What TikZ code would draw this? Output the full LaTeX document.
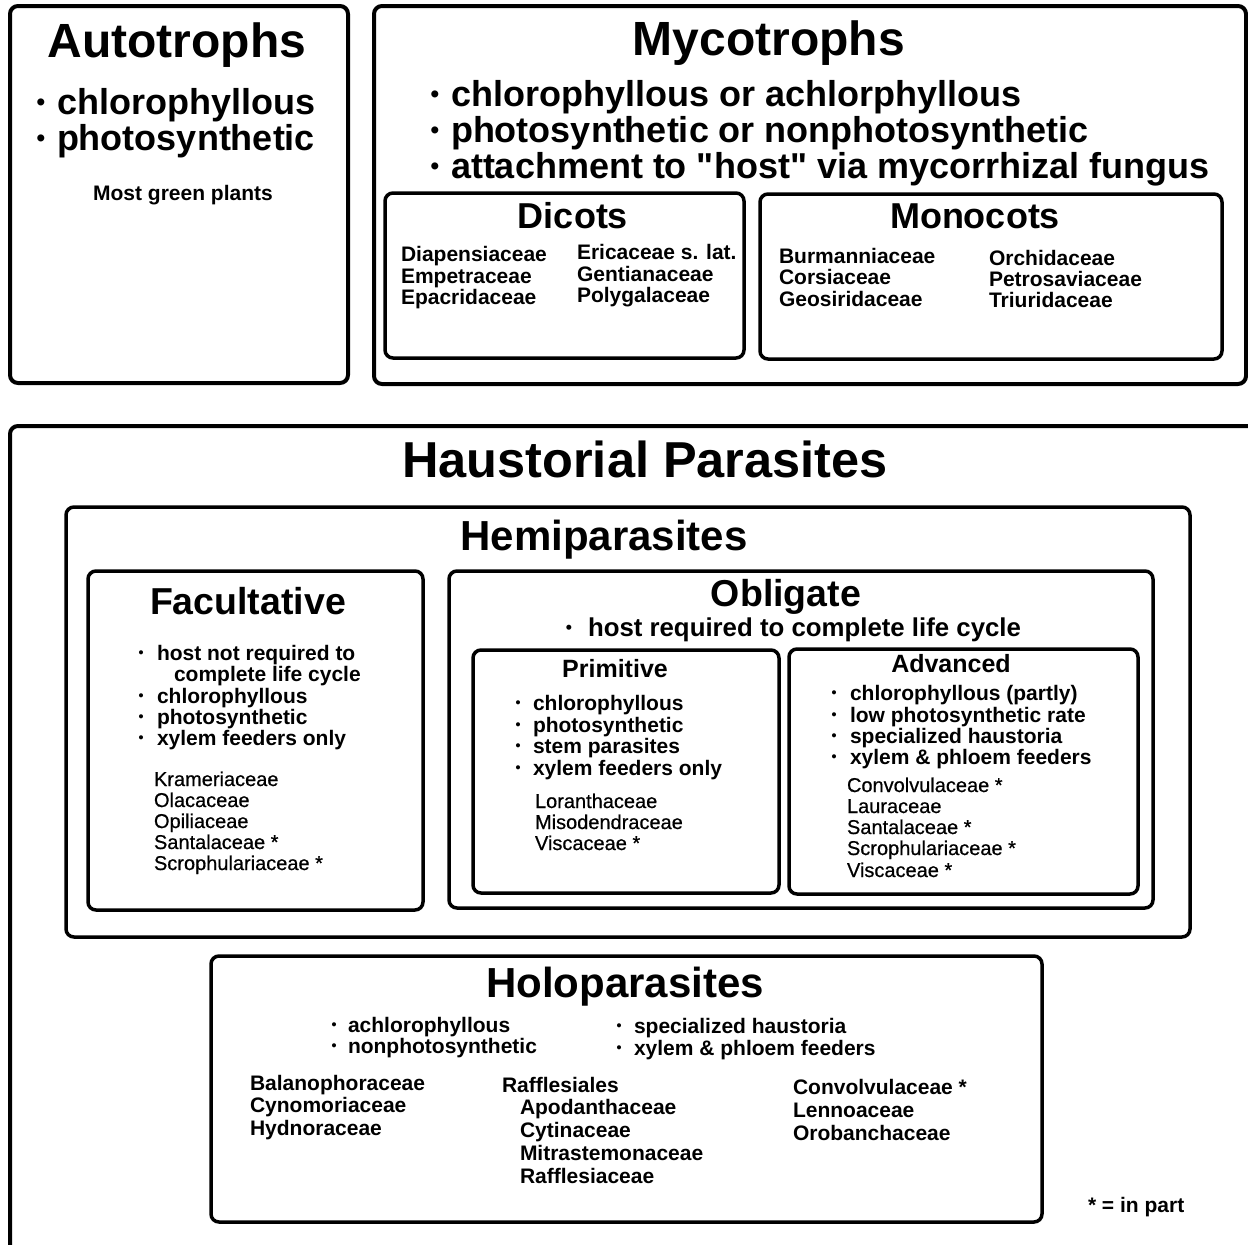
\documentclass[tikz,border=0pt]{standalone}
\usepackage{fontspec}
\setmainfont{Liberation Sans}
\newfontfamily\medfont[FakeBold=0.6]{Liberation Sans}
\newfontfamily\qfont[Ligatures=TeXOff]{Liberation Sans}
\tikzset{
  box/.style={draw=black, line width=3.5pt, rounded corners=8pt, inner sep=0pt, outer sep=0pt},
  obox/.style={box, line width=4pt},
  txt/.style={inner sep=0pt, outer sep=0pt, text=black},
}
\newcommand\fs[1]{\fontsize{#1}{#1}\selectfont}
% box: style, name, x1, y1, x2, y2
\newcommand\boxnode[6]{%
  \pgfmathsetmacro\bw{#5-#3}\pgfmathsetmacro\bh{#6-#4}%
  \pgfmathsetmacro\bx{(#3+#5)/2}\pgfmathsetmacro\by{(#4+#6)/2}%
  \node[#1, minimum width=\bw pt, minimum height=\bh pt] (#2) at (\bx,\by) {};}
% bullet line: name, dotx, textx, baseline, size, text
\newcommand\bulline[6]{%
  \pgfmathsetmacro\bsz{0.68*#5}%
  \pgfmathsetmacro\bup{0.1*#5}%
  \node[txt, anchor=base, font=\fs{\bsz}\bfseries] (#1d) at (#2,#4-\bup) {•};
  \node[txt, anchor=base west, font=\fs{#5}\bfseries] (#1) at (#3,#4) {#6};}
% text line: name, x, baseline, font, text
\newcommand\txtline[5]{\node[txt, anchor=base west, font=#4] (#1) at (#2,#3) {#5};}
% title: name, centerx, baseline, size, text
\newcommand\ttl[5]{\node[txt, anchor=base, font=\fs{#4}\bfseries] (#1) at (#2,#3) {#5};}
\newcommand\dq{{\qfont"}}
\begin{document}
\begin{tikzpicture}[x=1pt,y=-1pt]
\fill[white] (0,0) rectangle (1248,1245);
\useasboundingbox (0,0) rectangle (1248,1245);
\begin{scope}
\clip (0,0) rectangle (1248,1245);
% boxes
\boxnode{obox}{autobox}{10}{6}{348}{383}
\boxnode{obox}{mycobox}{374}{6}{1246}{384}
\boxnode{box}{dicbox}{385}{193}{744}{358}
\boxnode{box}{monbox}{760}{194}{1222}{359}
\boxnode{obox}{hausbox}{10}{426}{1280}{1280}
\boxnode{box}{hemibox}{66}{507}{1190}{937}
\boxnode{box}{facbox}{88}{571}{423}{910}
\boxnode{box}{oblbox}{449}{571}{1153}{908}
\boxnode{box}{primbox}{473}{650}{779}{893}
\boxnode{box}{advbox}{789}{649}{1138}{894}
\boxnode{box}{holobox}{211}{956}{1042}{1222}
\end{scope}
% Autotrophs
\ttl{autot}{177}{57}{48}{Autotrophs}
\bulline{auto1}{41}{57}{114}{36}{chlorophyllous}
\bulline{auto2}{41}{57}{150}{36}{photosynthetic}
\ttl{autom}{183}{200}{21}{Most green plants}
% Mycotrophs
\ttl{mycot}{769}{55}{48}{Mycotrophs}
\bulline{myco1}{435}{451}{106}{36}{chlorophyllous or achlorphyllous}
\bulline{myco2}{435}{451}{142}{36}{photosynthetic or nonphotosynthetic}
\bulline{myco3}{435}{451}{178}{36}{attachment to \dq host\dq\ via mycorrhizal fungus}
\ttl{dict}{573}{228}{36}{Dicots}
\ttl{mont}{975}{228}{36}{Monocots}
\txtline{dic1}{401}{261}{\fs{21}\bfseries}{Diapensiaceae}
\txtline{dic2}{401}{283}{\fs{21}\bfseries}{Empetraceae}
\txtline{dic3}{401}{304}{\fs{21}\bfseries}{Epacridaceae}
\txtline{dic4}{577}{259}{\fs{21}\bfseries}{Ericaceae s. lat.}
\txtline{dic5}{577}{281}{\fs{21}\bfseries}{Gentianaceae}
\txtline{dic6}{577}{302}{\fs{21}\bfseries}{Polygalaceae}
\txtline{mon1}{779}{263}{\fs{21}\bfseries}{Burmanniaceae}
\txtline{mon2}{779}{284}{\fs{21}\bfseries}{Corsiaceae}
\txtline{mon3}{779}{306}{\fs{21}\bfseries}{Geosiridaceae}
\txtline{mon4}{989}{265}{\fs{21}\bfseries}{Orchidaceae}
\txtline{mon5}{989}{286}{\fs{21}\bfseries}{Petrosaviaceae}
\txtline{mon6}{989}{307}{\fs{21}\bfseries}{Triuridaceae}
% Haustorial
\ttl{haust}{645}{477}{50.5}{Haustorial Parasites}
\ttl{hemit}{604}{550}{42}{Hemiparasites}
% Facultative
\ttl{fact}{248}{614}{37.5}{Facultative}
\bulline{fac1}{141}{157}{660}{21}{host not required to}
\txtline{fac1b}{174}{681}{\fs{21}\bfseries}{complete life cycle}
\bulline{fac2}{141}{157}{703}{21}{chlorophyllous}
\bulline{fac3}{141}{157}{724}{21}{photosynthetic}
\bulline{fac4}{141}{157}{745}{21}{xylem feeders only}
\txtline{facf1}{154}{786}{\fs{20}\medfont}{Krameriaceae}
\txtline{facf2}{154}{807}{\fs{20}\medfont}{Olacaceae}
\txtline{facf3}{154}{828}{\fs{20}\medfont}{Opiliaceae}
\txtline{facf4}{154}{849}{\fs{20}\medfont}{Santalaceae *}
\txtline{facf5}{154}{870}{\fs{20}\medfont}{Scrophulariaceae *}
% Obligate
\ttl{oblt}{786}{606}{37.5}{Obligate}
\bulline{obl1}{569}{588}{636}{25.8}{host required to complete life cycle}
\ttl{primt}{615}{677}{25}{Primitive}
\ttl{advt}{951}{672}{25}{Advanced}
\bulline{prim1}{518}{533}{710}{21}{chlorophyllous}
\bulline{prim2}{518}{533}{732}{21}{photosynthetic}
\bulline{prim3}{518}{533}{753}{21}{stem parasites}
\bulline{prim4}{518}{533}{775}{21}{xylem feeders only}
\txtline{primf1}{535}{808}{\fs{20}\medfont}{Loranthaceae}
\txtline{primf2}{535}{829}{\fs{20}\medfont}{Misodendraceae}
\txtline{primf3}{535}{850}{\fs{20}\medfont}{Viscaceae *}
\bulline{adv1}{834}{850}{700}{21}{chlorophyllous (partly)}
\bulline{adv2}{834}{850}{722}{21}{low photosynthetic rate}
\bulline{adv3}{834}{850}{743}{21}{specialized haustoria}
\bulline{adv4}{834}{850}{764}{21}{xylem \& phloem feeders}
\txtline{advf1}{847}{792}{\fs{20}\medfont}{Convolvulaceae *}
\txtline{advf2}{847}{813}{\fs{20}\medfont}{Lauraceae}
\txtline{advf3}{847}{834}{\fs{20}\medfont}{Santalaceae *}
\txtline{advf4}{847}{855}{\fs{20}\medfont}{Scrophulariaceae *}
\txtline{advf5}{847}{877}{\fs{20}\medfont}{Viscaceae *}
% Holoparasites
\ttl{holot}{625}{997}{42}{Holoparasites}
\bulline{holo1}{334}{348}{1032}{21}{achlorophyllous}
\bulline{holo2}{334}{348}{1053}{21}{nonphotosynthetic}
\bulline{holo3}{619}{634}{1033}{21}{specialized haustoria}
\bulline{holo4}{619}{634}{1055}{21}{xylem \& phloem feeders}
\txtline{holc1}{250}{1090}{\fs{21}\bfseries}{Balanophoraceae}
\txtline{holc2}{250}{1112}{\fs{21}\bfseries}{Cynomoriaceae}
\txtline{holc3}{250}{1135}{\fs{21}\bfseries}{Hydnoraceae}
\txtline{holr0}{502}{1092}{\fs{21}\bfseries}{Rafflesiales}
\txtline{holr1}{520}{1114}{\fs{21}\bfseries}{Apodanthaceae}
\txtline{holr2}{520}{1137}{\fs{21}\bfseries}{Cytinaceae}
\txtline{holr3}{520}{1160}{\fs{21}\bfseries}{Mitrastemonaceae}
\txtline{holr4}{520}{1183}{\fs{21}\bfseries}{Rafflesiaceae}
\txtline{holk1}{793}{1094}{\fs{21}\bfseries}{Convolvulaceae *}
\txtline{holk2}{793}{1117}{\fs{21}\bfseries}{Lennoaceae}
\txtline{holk3}{793}{1140}{\fs{21}\bfseries}{Orobanchaceae}
\txtline{inpart}{1088}{1212}{\fs{21}\bfseries}{* = in part}
\end{tikzpicture}
\end{document}
